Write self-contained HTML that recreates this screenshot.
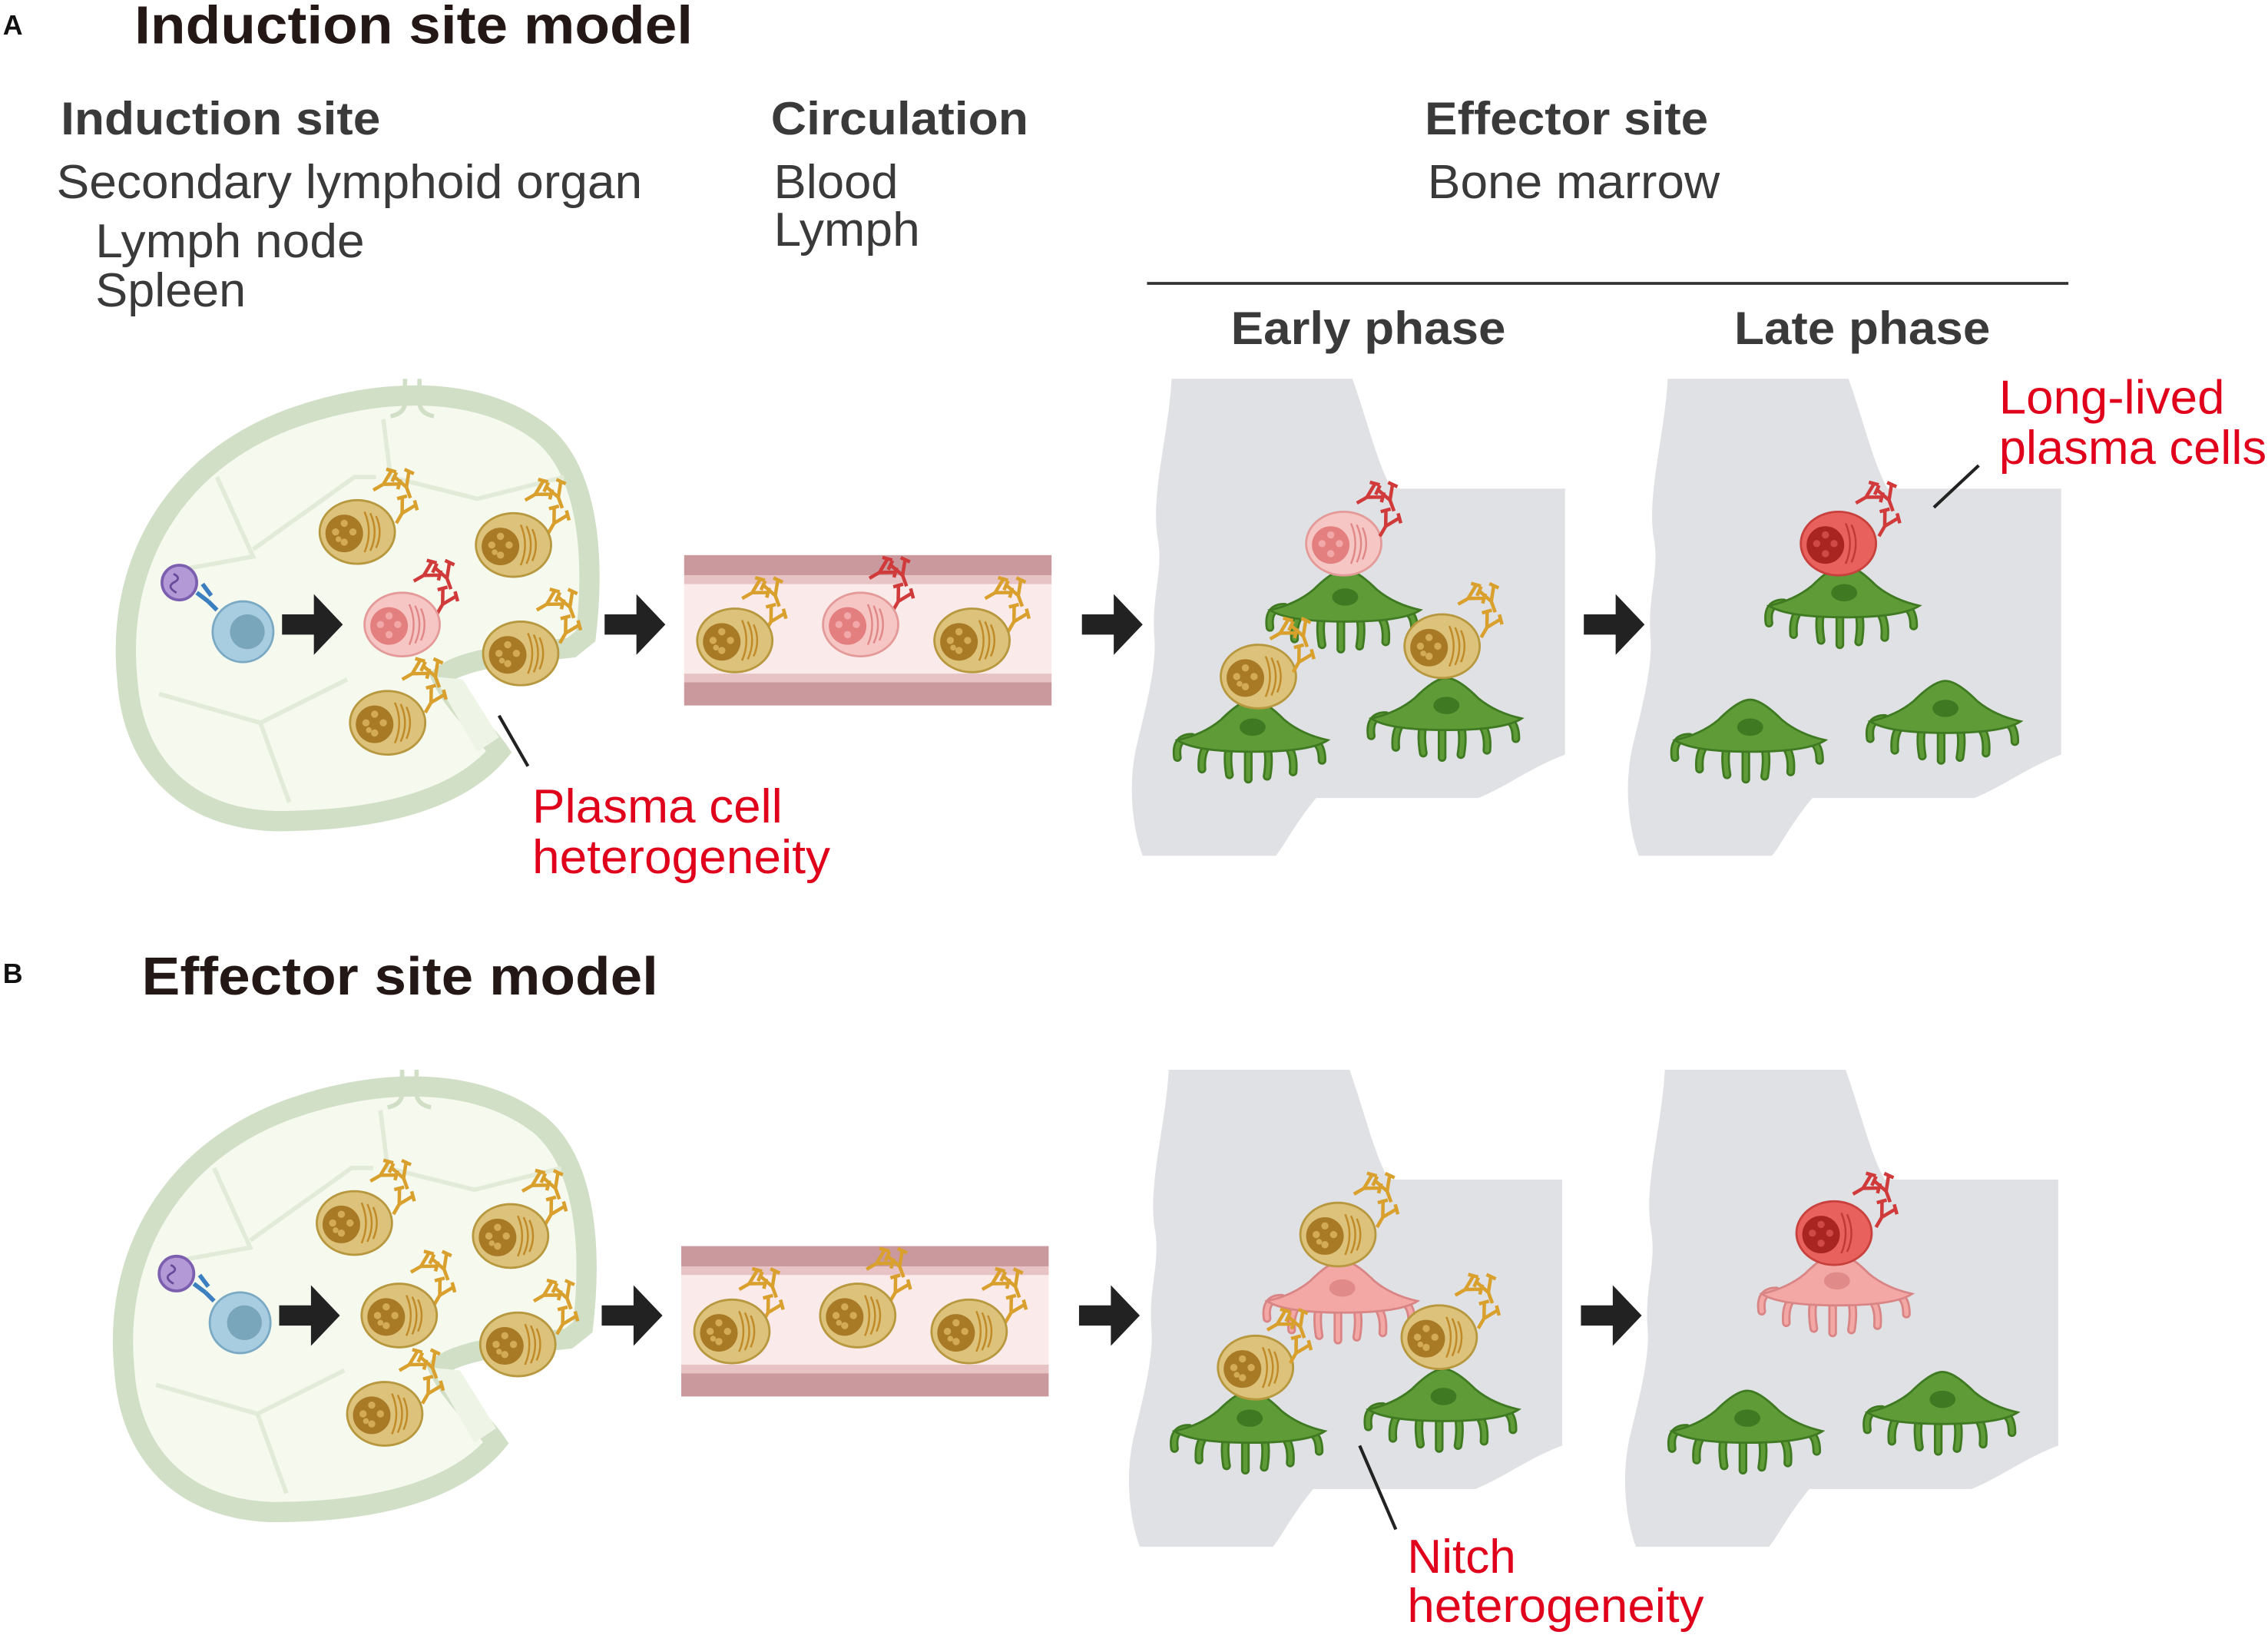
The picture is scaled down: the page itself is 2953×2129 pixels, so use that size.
<!DOCTYPE html>
<html><head><meta charset="utf-8">
<style>
html,body{margin:0;padding:0;background:#fff;}
svg{display:block;}
text{font-family:"Liberation Sans",Arial,sans-serif;}
</style></head>
<body>
<svg width="2953" height="2129" viewBox="0 0 1568 1131" preserveAspectRatio="none" xmlns="http://www.w3.org/2000/svg">
<defs>
  <g id="pcY">
    <ellipse cx="0" cy="0" rx="26" ry="22" fill="#dcc27a" stroke="#b8983f" stroke-width="1.5"/>
    <circle cx="-9" cy="1" r="13" fill="#a97a26"/>
    <g fill="#d3aa55"><circle cx="-9" cy="-6" r="2.5"/><circle cx="-3" cy="0" r="2.5"/><circle cx="-15" cy="0" r="2.5"/><circle cx="-9" cy="7" r="2.5"/><circle cx="-13" cy="5" r="2"/></g>
    <g fill="none" stroke="#c08a28" stroke-width="1.3"><path d="M5,-14 q6,14 0,28"/><path d="M9,-13 q6,13 0,26"/><path d="M13,-11 q5,11 0,22"/></g>
  </g>
  <g id="pcP">
    <ellipse cx="0" cy="0" rx="26" ry="22" fill="#f6c6c4" stroke="#e49a98" stroke-width="1.5"/>
    <circle cx="-9" cy="1" r="13" fill="#e47f7f"/>
    <g fill="#f2a8a8"><circle cx="-9" cy="-6" r="2.5"/><circle cx="-3" cy="0" r="2.5"/><circle cx="-15" cy="0" r="2.5"/><circle cx="-9" cy="7" r="2.5"/></g>
    <g fill="none" stroke="#e08888" stroke-width="1.3"><path d="M5,-14 q6,14 0,28"/><path d="M9,-13 q6,13 0,26"/><path d="M13,-11 q5,11 0,22"/></g>
  </g>
  <g id="pcR">
    <ellipse cx="0" cy="0" rx="26" ry="22" fill="#e8615d" stroke="#c8413d" stroke-width="1.5"/>
    <circle cx="-9" cy="1" r="13" fill="#a82522"/>
    <g fill="#cf4a46"><circle cx="-9" cy="-6" r="2.5"/><circle cx="-3" cy="0" r="2.5"/><circle cx="-15" cy="0" r="2.5"/><circle cx="-9" cy="7" r="2.5"/></g>
    <g fill="none" stroke="#c23a36" stroke-width="1.3"><path d="M5,-14 q6,14 0,28"/><path d="M9,-13 q6,13 0,26"/></g>
  </g>
  <g id="y"><path d="M0,0 L-5,-9 M0,0 L5,-9 M0,0 L0,8 M-8,-7 L-3,-12 M8,-7 L3,-12" fill="none" stroke-width="2.4"/></g>
  <g id="abY" stroke="#d9a02e">
    <use href="#y" transform="translate(0,0) rotate(60)"/>
    <use href="#y" transform="translate(16,2) rotate(-20)"/>
    <use href="#y" transform="translate(13,20) rotate(30)"/>
  </g>
  <g id="abR" stroke="#d03a3a">
    <use href="#y" transform="translate(0,0) rotate(60)"/>
    <use href="#y" transform="translate(16,2) rotate(-20)"/>
    <use href="#y" transform="translate(13,20) rotate(30)"/>
  </g>
  <g id="legs">
    <path d="M-42,10 q-12,0 -10,14"/><path d="M-30,14 q-6,6 -5,18"/><path d="M-16,16 q-2,8 0,20"/><path d="M-3,17 v22"/><path d="M10,17 q2,8 0,20"/><path d="M24,16 q5,6 4,18"/><path d="M38,12 q10,0 10,14"/>
  </g>
  <g id="stG">
    <g fill="none" stroke-linecap="round">
      <use href="#legs" stroke="#3f7a22" stroke-width="6"/>
      <use href="#legs" stroke="#5f9c38" stroke-width="3"/>
    </g>
    <path d="M-52,12 Q-34,8 -22,-2 Q-8,-16 0,-16 Q8,-16 22,-2 Q34,8 52,12 Q40,20 0,20 Q-40,20 -52,12Z" fill="#5f9c38" stroke="#3f7a22" stroke-width="1.5"/>
    <ellipse cx="0" cy="3" rx="9" ry="6" fill="#3f7a22"/>
  </g>
  <g id="stP">
    <g fill="none" stroke-linecap="round">
      <use href="#legs" stroke="#d98585" stroke-width="6"/>
      <use href="#legs" stroke="#f3a8a6" stroke-width="3"/>
    </g>
    <path d="M-52,12 Q-34,8 -22,-2 Q-8,-16 0,-16 Q8,-16 22,-2 Q34,8 52,12 Q40,20 0,20 Q-40,20 -52,12Z" fill="#f3a8a6" stroke="#d98585" stroke-width="1.5"/>
    <ellipse cx="0" cy="3" rx="9" ry="6" fill="#e08a8a"/>
  </g>
  <path id="arrow" d="M0,-7 h22 v-14 l20,21 -20,21 v-14 h-22z" fill="#222"/>
  <path id="bm" d="M810,262 L935,262 C945,290 952,320 962,338 L1082,338 L1082,522 C1060,530 1040,545 1022,552 L910,552 C895,570 888,585 882,592 L790,592 C782,570 780,540 786,515 C792,490 800,460 798,440 C796,410 805,395 800,370 C796,340 808,300 810,262 Z" fill="#e0e1e4"/>
  <g id="node">
    <path d="M88,470 C80,390 120,320 200,290 C260,268 330,265 375,300 C405,325 412,380 405,440 L395,448 C360,452 320,455 305,468 C315,490 335,505 345,520 C320,550 270,568 190,568 C130,566 92,530 88,470 Z" fill="#f5f9ee" stroke="#d2dfc7" stroke-width="14"/>
    <g fill="none" stroke="#e2ebd8" stroke-width="3">
      <path d="M265,290 L270,330 L330,345 L390,330"/>
      <path d="M150,330 L175,385 L120,395"/>
      <path d="M260,330 L245,330 L175,380"/>
      <path d="M110,480 L180,500 L200,555"/>
      <path d="M180,500 L240,470"/>
    </g>
    <path d="M280,262 v16 q0,8 -10,10 M290,262 v16 q0,8 10,10" fill="none" stroke="#d2dfc7" stroke-width="3"/>
    <path d="M300,468 L330,520 L345,510 L320,470 Z" fill="#eef4e6"/>
  </g>
  <g id="vessel">
    <rect x="473" y="384" width="254" height="104" fill="#fbeaea"/>
    <rect x="473" y="384" width="254" height="14" fill="#c9999d"/>
    <rect x="473" y="398" width="254" height="6" fill="#e7c3c5"/>
    <rect x="473" y="466" width="254" height="6" fill="#e7c3c5"/>
    <rect x="473" y="472" width="254" height="16" fill="#c9999d"/>
  </g>
</defs>

<g lengthAdjust="spacingAndGlyphs">
<text x="2" y="24" font-size="19" font-weight="bold" fill="#111">A</text>
<text x="93" y="30" font-size="37" font-weight="bold" fill="#231815" textLength="386" lengthAdjust="spacingAndGlyphs">Induction site model</text>
<text x="42" y="93" font-size="32" font-weight="bold" fill="#3a3a3a" textLength="221" lengthAdjust="spacingAndGlyphs">Induction site</text>
<text x="39" y="137" font-size="33" fill="#3a3a3a" textLength="405" lengthAdjust="spacingAndGlyphs">Secondary lymphoid organ</text>
<text x="66" y="178" font-size="33" fill="#3a3a3a" textLength="186" lengthAdjust="spacingAndGlyphs">Lymph node</text>
<text x="66" y="212" font-size="33" fill="#3a3a3a" textLength="104" lengthAdjust="spacingAndGlyphs">Spleen</text>
<text x="533" y="93" font-size="32" font-weight="bold" fill="#3a3a3a" textLength="178" lengthAdjust="spacingAndGlyphs">Circulation</text>
<text x="535" y="137" font-size="33" fill="#3a3a3a" textLength="86" lengthAdjust="spacingAndGlyphs">Blood</text>
<text x="535" y="170" font-size="33" fill="#3a3a3a" textLength="101" lengthAdjust="spacingAndGlyphs">Lymph</text>
<text x="985" y="93" font-size="32" font-weight="bold" fill="#3a3a3a" textLength="196" lengthAdjust="spacingAndGlyphs">Effector site</text>
<text x="987" y="137" font-size="33" fill="#3a3a3a" textLength="202" lengthAdjust="spacingAndGlyphs">Bone marrow</text>
<line x1="793" y1="196" x2="1430" y2="196" stroke="#333" stroke-width="2"/>
<text x="851" y="238" font-size="32" font-weight="bold" fill="#3a3a3a" textLength="190" lengthAdjust="spacingAndGlyphs">Early phase</text>
<text x="1199" y="238" font-size="32" font-weight="bold" fill="#3a3a3a" textLength="177" lengthAdjust="spacingAndGlyphs">Late phase</text>
</g>

<use href="#node"/>
<circle cx="124" cy="403" r="12" fill="#b39ad6" stroke="#7d5fb0" stroke-width="2"/>
<path d="M120,397 q6,3 0,6 q-5,3 2,7" fill="none" stroke="#6a4a9a" stroke-width="1.5"/>
<path d="M136,410 l8,6 M140,404 l6,8 M144,416 l6,6" stroke="#3b7fc0" stroke-width="3"/>
<circle cx="168" cy="437" r="21" fill="#a9cde0" stroke="#7aa9c4" stroke-width="1.5"/>
<circle cx="171" cy="437" r="12" fill="#7aa6bc"/>
<use href="#abY" transform="translate(265,335)"/>
<use href="#pcY" transform="translate(247,368)"/>
<use href="#abY" transform="translate(370,342)"/>
<use href="#pcY" transform="translate(355,377)"/>
<use href="#abR" transform="translate(293,398)"/>
<use href="#pcP" transform="translate(278,432)"/>
<use href="#abY" transform="translate(378,418)"/>
<use href="#pcY" transform="translate(360,452)"/>
<use href="#abY" transform="translate(285,466)"/>
<use href="#pcY" transform="translate(268,500)"/>
<line x1="345" y1="495" x2="365" y2="530" stroke="#222" stroke-width="2.2"/>
<text x="368" y="569" font-size="33" fill="#e0001b" textLength="173" lengthAdjust="spacingAndGlyphs">Plasma cell</text>
<text x="368" y="604" font-size="33" fill="#e0001b" textLength="206" lengthAdjust="spacingAndGlyphs">heterogeneity</text>

<use href="#arrow" transform="translate(195,432)"/>
<use href="#arrow" transform="translate(418,432)"/>
<use href="#vessel"/>
<use href="#abY" transform="translate(520,410)"/>
<use href="#pcY" transform="translate(508,443)"/>
<use href="#abR" transform="translate(608,396)"/>
<use href="#pcP" transform="translate(595,432)"/>
<use href="#abY" transform="translate(688,410)"/>
<use href="#pcY" transform="translate(672,443)"/>
<use href="#arrow" transform="translate(748,432)"/>

<use href="#bm"/>
<use href="#stG" transform="translate(930,410)"/>
<use href="#pcP" transform="translate(929,376)"/>
<use href="#abR" transform="translate(945,344)"/>
<use href="#stG" transform="translate(866,500)"/>
<use href="#pcY" transform="translate(870,468)"/>
<use href="#abY" transform="translate(885,438)"/>
<use href="#stG" transform="translate(1000,485)"/>
<use href="#pcY" transform="translate(997,447)"/>
<use href="#abY" transform="translate(1015,414)"/>
<use href="#arrow" transform="translate(1095,432)"/>

<use href="#bm" transform="translate(343,0)"/>
<use href="#stG" transform="translate(1275,407)"/>
<use href="#pcR" transform="translate(1271,376)"/>
<use href="#abR" transform="translate(1290,344)"/>
<use href="#stG" transform="translate(1210,500)"/>
<use href="#stG" transform="translate(1345,487)"/>
<line x1="1337" y1="351" x2="1368" y2="322" stroke="#222" stroke-width="2.2"/>
<text x="1382" y="286" font-size="33" fill="#e0001b" textLength="156" lengthAdjust="spacingAndGlyphs">Long-lived</text>
<text x="1382" y="321" font-size="33" fill="#e0001b" textLength="185" lengthAdjust="spacingAndGlyphs">plasma cells</text>

<text x="2" y="680" font-size="19" font-weight="bold" fill="#111">B</text>
<text x="98" y="688" font-size="37" font-weight="bold" fill="#231815" textLength="357" lengthAdjust="spacingAndGlyphs">Effector site model</text>
<g transform="translate(-2,478)">
<use href="#node"/>
<circle cx="124" cy="403" r="12" fill="#b39ad6" stroke="#7d5fb0" stroke-width="2"/>
<path d="M120,397 q6,3 0,6 q-5,3 2,7" fill="none" stroke="#6a4a9a" stroke-width="1.5"/>
<path d="M136,410 l8,6 M140,404 l6,8 M144,416 l6,6" stroke="#3b7fc0" stroke-width="3"/>
<circle cx="168" cy="437" r="21" fill="#a9cde0" stroke="#7aa9c4" stroke-width="1.5"/>
<circle cx="171" cy="437" r="12" fill="#7aa6bc"/>
<use href="#abY" transform="translate(265,335)"/>
<use href="#pcY" transform="translate(247,368)"/>
<use href="#abY" transform="translate(370,342)"/>
<use href="#pcY" transform="translate(355,377)"/>
<use href="#abY" transform="translate(293,398)"/>
<use href="#pcY" transform="translate(278,432)"/>
<use href="#abY" transform="translate(378,418)"/>
<use href="#pcY" transform="translate(360,452)"/>
<use href="#abY" transform="translate(285,466)"/>
<use href="#pcY" transform="translate(268,500)"/>
<use href="#arrow" transform="translate(195,432)"/>
<use href="#arrow" transform="translate(418,432)"/>
<use href="#vessel"/>
<use href="#abY" transform="translate(520,410)"/>
<use href="#pcY" transform="translate(508,443)"/>
<use href="#abY" transform="translate(608,396)"/>
<use href="#pcY" transform="translate(595,432)"/>
<use href="#abY" transform="translate(688,410)"/>
<use href="#pcY" transform="translate(672,443)"/>
<use href="#arrow" transform="translate(748,432)"/>
<use href="#bm"/>
<use href="#stP" transform="translate(930,410)"/>
<use href="#pcY" transform="translate(927,376)"/>
<use href="#abY" transform="translate(945,344)"/>
<use href="#stG" transform="translate(866,500)"/>
<use href="#pcY" transform="translate(870,468)"/>
<use href="#abY" transform="translate(885,438)"/>
<use href="#stG" transform="translate(1000,485)"/>
<use href="#pcY" transform="translate(997,447)"/>
<use href="#abY" transform="translate(1015,414)"/>
<use href="#arrow" transform="translate(1095,432)"/>
<use href="#bm" transform="translate(343,0)"/>
<use href="#stP" transform="translate(1272,405)"/>
<use href="#pcR" transform="translate(1270,375)"/>
<use href="#abR" transform="translate(1290,344)"/>
<use href="#stG" transform="translate(1210,500)"/>
<use href="#stG" transform="translate(1345,487)"/>
</g>
<line x1="940" y1="1000" x2="965" y2="1058" stroke="#222" stroke-width="2.2"/>
<text x="973" y="1088" font-size="33" fill="#e0001b" textLength="75" lengthAdjust="spacingAndGlyphs">Nitch</text>
<text x="973" y="1122" font-size="33" fill="#e0001b" textLength="205" lengthAdjust="spacingAndGlyphs">heterogeneity</text>
</svg>
</body></html>
